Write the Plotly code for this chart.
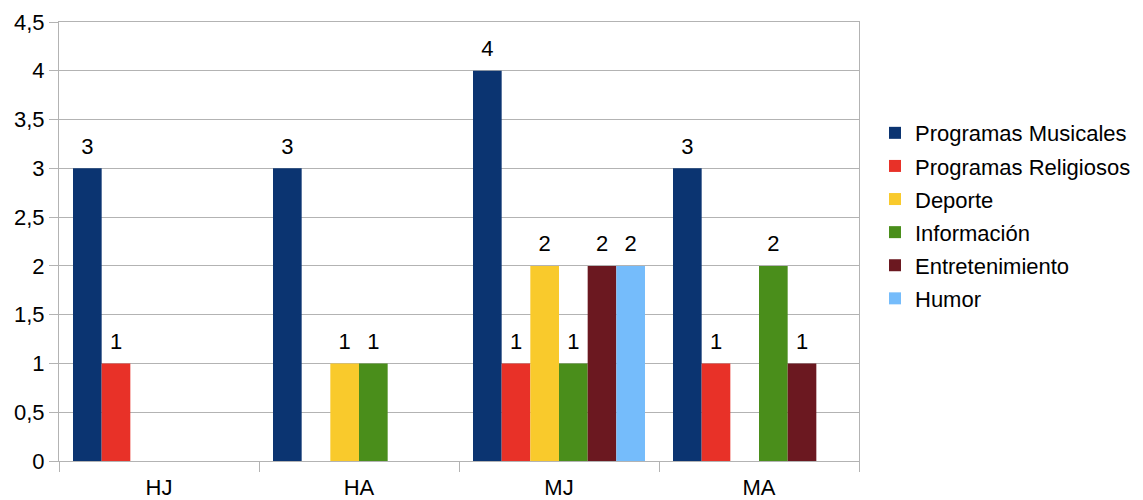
import plotly.graph_objects as go

categories = ["HJ", "HA", "MJ", "MA"]
series_names = [
    "Programas Musicales",
    "Programas Religiosos",
    "Deporte",
    "Información",
    "Entretenimiento",
    "Humor",
]
musicales = [3, 3, 4, 3]
religiosos = [1, None, 1, 1]
deporte = [None, 1, 2, None]
informacion = [None, 1, 1, 2]
entretenimiento = [None, None, 2, 1]
humor = [None, None, 2, None]
y_ticks = [0, 0.5, 1, 1.5, 2, 2.5, 3, 3.5, 4, 4.5]

series_values = [musicales, religiosos, deporte, informacion, entretenimiento, humor]
colors = ["#0b3471", "#e83128", "#f9ca2c", "#4a8e1b", "#6b1820", "#75bcfb"]

FONT = "Liberation Sans, Arial, sans-serif"
GAP = 0.14

fig = go.Figure()
for i, (name, vals, col) in enumerate(zip(series_names, series_values, colors)):
    fig.add_trace(go.Bar(
        x=categories,
        y=vals,
        name=name,
        marker=dict(color=col, line=dict(width=0)),
        offsetgroup=str(i),
        legendgroup=f"g{i}",
    ))
    # value labels, grouped in the same slots as the bars
    fig.add_trace(go.Scatter(
        x=categories,
        y=vals,
        mode="markers+text",
        text=[("" if v is None else f"{v:g}") for v in vals],
        textposition="top center",
        textfont=dict(family=FONT, size=22, color="#000000"),
        marker=dict(size=13, color="rgba(0,0,0,0)"),
        offsetgroup=str(i),
        showlegend=False,
        hoverinfo="skip",
        cliponaxis=False,
    ))

fig.update_layout(
    width=1143,
    height=500,
    margin=dict(l=59, r=284, t=22, b=39, autoexpand=False),
    paper_bgcolor="white",
    plot_bgcolor="white",
    barmode="group",
    bargap=GAP,
    bargroupgap=0,
    scattermode="group",
    scattergap=GAP,
    separators=",.",
    font=dict(family=FONT, size=22, color="#000000"),
    showlegend=True,
    legend=dict(
        x=1.02,
        y=0.558,
        xanchor="left",
        yanchor="middle",
        font=dict(family=FONT, size=22, color="#000000"),
        traceorder="grouped",
        tracegroupgap=1.5,
        itemwidth=30,
        bgcolor="rgba(0,0,0,0)",
    ),
    xaxis=dict(
        showline=True,
        linecolor="#b3b3b3",
        linewidth=1,
        mirror=True,
        ticks="outside",
        tickson="boundaries",
        ticklen=10,
        tickcolor="#b3b3b3",
        ticklabelstandoff=7,
        automargin=False,
        tickfont=dict(family=FONT, size=22, color="#000000"),
        showgrid=False,
    ),
    yaxis=dict(
        range=[0, 4.5],
        tickvals=y_ticks,
        showline=True,
        linecolor="#b3b3b3",
        linewidth=1,
        mirror=True,
        ticks="outside",
        ticklen=9,
        tickcolor="#b3b3b3",
        showgrid=True,
        gridcolor="#b3b3b3",
        gridwidth=1,
        zeroline=False,
        automargin=False,
        tickfont=dict(family=FONT, size=22, color="#000000"),
    ),
)

fig.write_html("out.html")
